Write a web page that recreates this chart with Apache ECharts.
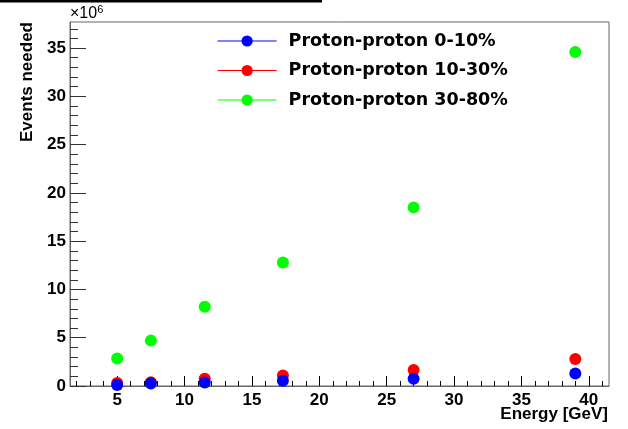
<!DOCTYPE html>
<html>
<head>
<meta charset="utf-8">
<script src="https://cdn.jsdelivr.net/npm/echarts@6/dist/echarts.min.js"></script>
<style>
  html, body { margin: 0; padding: 0; background: #fff; }
  #chart { width: 628px; height: 429px; }
</style>
</head>
<body>
<div id="chart"></div>
<script>
// beam energies [GeV]
const energies = [5, 7.5, 11.5, 17.3, 27, 39];

// events needed, in units of 10^6
const central = [0.1, 0.25, 0.35, 0.55, 0.75, 1.3];     // 0-10%
const midCentral = [0.3, 0.4, 0.75, 1.1, 1.65, 2.8];    // 10-30%
const peripheral = [2.85, 4.7, 8.2, 12.8, 18.5, 34.6];  // 30-80%

const seriesNames = ['Proton-proton 0-10%', 'Proton-proton 10-30%', 'Proton-proton 30-80%'];

const xMajor = [5, 10, 15, 20, 25, 30, 35, 40];
const yMajor = [0, 5, 10, 15, 20, 25, 30, 35];

// minor ticks every 1 unit
const xMinor = [];
for (let v = 2; v <= 41; v++) if (v % 5 !== 0) xMinor.push(v);
const yMinor = [];
for (let v = 1; v <= 37; v++) if (v % 5 !== 0) yMinor.push(v);

const pairs = (ys) => energies.map((x, i) => [x, ys[i]]);

const font = '"Liberation Sans", Arial, Helvetica, sans-serif';
const legendFont = '"DejaVu Sans", "Liberation Sans", sans-serif';
const frameColor = '#666';

const chart = echarts.init(document.getElementById('chart'));

const xRange = { min: 1.5, max: 41.5 };
const yRange = { min: 0, max: 37.7 };

const makeSeries = (name, ys, color, z) => ({
  name: name,
  type: 'line',
  data: pairs(ys),
  symbol: 'circle',
  symbolSize: 12,
  showSymbol: true,
  z: z,
  itemStyle: { color: color },
  lineStyle: { width: 0, opacity: 0 },
  animation: false
});

const option = {
  animation: false,
  backgroundColor: '#fff',
  grid: {
    left: 70,
    right: 19,
    top: 22,
    bottom: 43,
    show: true,
    borderColor: frameColor,
    borderWidth: 1
  },
  legend: {
    left: 212,
    top: 27,
    orient: 'vertical',
    itemWidth: 59,
    itemHeight: 14,
    itemGap: 11.5,
    data: seriesNames,
    lineStyle: { width: 1.2, opacity: 1 },
    textStyle: {
      fontFamily: legendFont,
      fontWeight: 'bold',
      fontSize: 17.5,
      color: '#000',
      padding: [0, 0, 0, 7]
    }
  },
  xAxis: [
    {
      type: 'value',
      min: xRange.min,
      max: xRange.max,
      axisLine: { show: true, lineStyle: { color: frameColor, width: 1 } },
      axisTick: {
        show: true, inside: true, length: 10,
        customValues: xMajor,
        lineStyle: { color: '#000' }
      },
      axisLabel: {
        customValues: xMajor,
        margin: 6,
        fontFamily: font, fontWeight: 'bold', fontSize: 17, color: '#000'
      },
      splitLine: { show: false }
    },
    {
      type: 'value',
      position: 'bottom',
      min: xRange.min,
      max: xRange.max,
      axisLine: { show: false },
      axisTick: {
        show: true, inside: true, length: 5,
        customValues: xMinor,
        lineStyle: { color: '#000' }
      },
      axisLabel: { show: false },
      splitLine: { show: false }
    }
  ],
  yAxis: [
    {
      type: 'value',
      min: yRange.min,
      max: yRange.max,
      axisLine: { show: true, lineStyle: { color: frameColor, width: 1 } },
      axisTick: {
        show: true, inside: true, length: 16,
        customValues: yMajor,
        lineStyle: { color: '#333' }
      },
      axisLabel: {
        customValues: yMajor,
        margin: 4,
        fontFamily: font, fontWeight: 'bold', fontSize: 17, color: '#000'
      },
      splitLine: { show: false }
    },
    {
      type: 'value',
      position: 'left',
      min: yRange.min,
      max: yRange.max,
      axisLine: { show: false },
      axisTick: {
        show: true, inside: true, length: 8,
        customValues: yMinor,
        lineStyle: { color: '#333' }
      },
      axisLabel: { show: false },
      splitLine: { show: false }
    }
  ],
  graphic: [
    // dark edge strip at the top-left of the canvas
    { type: 'rect', left: 0, top: 0, shape: { width: 322, height: 2.5 }, style: { fill: '#000' } },
    {
      type: 'text',
      x: 27, y: 22,
      rotation: Math.PI / 2,
      style: {
        text: 'Events needed',
        fontFamily: font, fontWeight: 'bold', fontSize: 17,
        fill: '#000', align: 'right', verticalAlign: 'middle'
      }
    },
    {
      type: 'text',
      x: 608, y: 414,
      style: {
        text: 'Energy [GeV]',
        fontFamily: font, fontWeight: 'bold', fontSize: 17,
        fill: '#000', align: 'right', verticalAlign: 'middle'
      }
    },
    {
      type: 'text',
      x: 70, y: 24,
      style: {
        text: '×10{s|6}',
        rich: { s: { fontSize: 11, fontFamily: font, verticalAlign: 'top', padding: [0, 0, 9, 0] } },
        fontFamily: font, fontSize: 16,
        fill: '#000', align: 'left', verticalAlign: 'bottom'
      }
    }
  ],
  series: [
    makeSeries(seriesNames[0], central, '#0000ff', 4),
    makeSeries(seriesNames[1], midCentral, '#ff0000', 3),
    makeSeries(seriesNames[2], peripheral, '#00ff00', 2)
  ]
};

chart.setOption(option);
</script>
</body>
</html>
